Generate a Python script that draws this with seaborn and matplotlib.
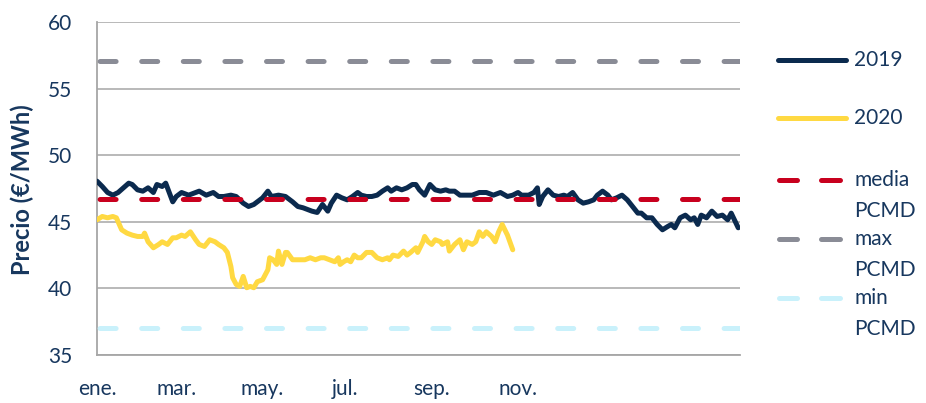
import matplotlib
matplotlib.use("Agg")
import matplotlib.pyplot as plt
from matplotlib.lines import Line2D
import seaborn as sns

# Daily price readings (day of year, €/MWh)
days_2019 = [0, 3, 6, 9, 12, 15, 18, 20, 23, 26, 29, 32, 34, 37, 39, 40, 43, 45, 48, 52,
             56, 58, 62, 66, 69, 72, 76, 79, 83, 86, 89, 91, 94, 97, 99, 103, 107, 111, 114, 117,
             120, 122, 125, 128, 131, 133, 136, 139, 142, 145, 148, 150, 153, 156, 159, 162, 165, 167, 170, 173,
             176, 179, 181, 183, 186, 189, 192, 195, 198, 200, 203, 206, 210, 213, 217, 221, 225, 229, 233, 236,
             239, 241, 245, 248, 250, 251, 253, 256, 259, 262, 265, 267, 270, 273, 276, 279, 282, 284, 287, 290,
             292, 295, 298, 301, 304, 307, 309, 312, 315, 318, 321, 324, 326, 328, 331, 334, 337, 339, 341, 343,
             346, 349, 352, 355, 358, 360, 364]
price_2019 = [48.05, 47.65, 47.2, 47.0, 47.2, 47.55, 47.9, 47.8, 47.4, 47.3, 47.55, 47.2, 47.8, 47.65, 47.9, 47.55, 46.5, 46.9, 47.2, 47.0,
              47.2, 47.3, 47.0, 47.2, 46.9, 46.9, 47.0, 46.9, 46.4, 46.15, 46.3, 46.5, 46.8, 47.3, 46.9, 47.0, 46.9, 46.5, 46.15, 46.05,
              45.9, 45.8, 45.7, 46.3, 45.8, 46.4, 47.0, 46.8, 46.65, 46.9, 47.2, 47.0, 46.9, 46.9, 47.0, 47.3, 47.55, 47.3, 47.55, 47.4,
              47.55, 47.8, 47.8, 47.4, 47.0, 47.8, 47.4, 47.3, 47.4, 47.3, 47.3, 47.0, 47.0, 47.0, 47.2, 47.2, 47.0, 47.2, 46.9, 47.0,
              47.2, 47.0, 47.0, 47.2, 47.55, 46.3, 46.9, 47.4, 47.0, 46.9, 47.0, 46.9, 47.2, 46.65, 46.4, 46.5, 46.65, 47.0, 47.3, 47.0,
              46.65, 46.8, 47.0, 46.65, 46.15, 45.65, 45.65, 45.3, 45.3, 44.8, 44.4, 44.65, 44.8, 44.55, 45.3, 45.5, 45.15, 45.3, 44.8, 45.5,
              45.3, 45.8, 45.4, 45.5, 45.15, 45.65, 44.55]

days_2020 = [0, 3, 6, 9, 11, 14, 17, 20, 23, 26, 27, 29, 32, 35, 37, 40, 43, 45, 48, 50,
             53, 56, 58, 61, 64, 67, 69, 72, 74, 76, 77, 79, 81, 83, 85, 87, 89, 91, 94, 97,
             98, 100, 102, 103, 105, 107, 108, 111, 114, 116, 118, 121, 124, 127, 129, 132, 135, 137, 138, 140,
             142, 144, 146, 148, 150, 153, 156, 159, 162, 165, 166, 168, 171, 174, 176, 178, 181, 182, 185, 186,
             188, 190, 192, 195, 196, 199, 200, 203, 206, 208, 210, 213, 215, 217, 219, 221, 224, 226, 228, 230,
             233, 236]
price_2020 = [45.15, 45.4, 45.3, 45.4, 45.3, 44.4, 44.15, 44.0, 43.9, 43.9, 44.15, 43.5, 43.05, 43.3, 43.5, 43.3, 43.8, 43.8, 44.0, 43.9,
              44.25, 43.65, 43.3, 43.15, 43.65, 43.5, 43.3, 43.05, 42.7, 41.65, 40.8, 40.3, 40.15, 40.9, 40.05, 40.15, 40.05, 40.5, 40.65, 41.4,
              42.3, 42.15, 41.8, 42.8, 41.8, 42.7, 42.7, 42.15, 42.15, 42.15, 42.15, 42.3, 42.15, 42.3, 42.3, 42.15, 42.0, 42.3, 41.8, 42.0,
              42.15, 42.0, 42.5, 42.3, 42.3, 42.7, 42.7, 42.3, 42.15, 42.3, 42.15, 42.5, 42.4, 42.8, 42.5, 42.7, 43.05, 42.7, 43.5, 43.9,
              43.5, 43.3, 43.65, 43.5, 43.3, 43.5, 42.8, 43.3, 43.65, 42.9, 43.5, 43.3, 43.5, 44.25, 43.9, 44.25, 43.9, 43.5, 44.25, 44.8,
              44.0, 42.9]

media_pcmd = 46.7
max_pcmd = 57.1
min_pcmd = 37.0

month_ticks = [0, 45, 94, 141, 190, 239]
month_labels = ["ene.", "mar.", "may.", "jul.", "sep.", "nov."]
y_ticks = [35, 40, 45, 50, 55, 60]

navy = "#0B2A4E"
yellow = "#FFD942"
red = "#C8001E"
gray = "#8A8C96"
light = "#C9F1FB"
txt = "#17375E"
grid = "#A6A6A6"

sns.set_theme(style="white")
plt.rcParams["font.family"] = ["Lato", "DejaVu Sans"]
FS = 15

fig = plt.figure(figsize=(9.26, 4.03), dpi=100)
ax = fig.add_axes([97 / 926, 1 - 355 / 403, 643 / 926, 333 / 403])

sns.lineplot(x=days_2019, y=price_2019, ax=ax, color=navy, linewidth=3.6,
             solid_joinstyle="round", solid_capstyle="round", zorder=3)
sns.lineplot(x=days_2020, y=price_2020, ax=ax, color=yellow, linewidth=3.6,
             solid_joinstyle="round", solid_capstyle="round", zorder=3)

dash = (7.8, (3.2, 5.12))
for val, col in [(media_pcmd, red), (max_pcmd, gray), (min_pcmd, light)]:
    ax.axhline(val, color=col, linewidth=3.6, linestyle=dash,
               dash_capstyle="round", zorder=4)

ax.set_xlim(0, 365)
ax.set_ylim(35, 60)
ax.set_yticks(y_ticks)
ax.set_xticks(month_ticks)
ax.set_xticklabels(month_labels)
ax.tick_params(axis="both", length=0, labelsize=FS, labelcolor=txt)
ax.tick_params(axis="y", pad=18)
ax.tick_params(axis="x", pad=17)
ax.yaxis.grid(True, color=grid, linewidth=1.1)
ax.set_axisbelow(True)
for s in ["top", "right"]:
    ax.spines[s].set_visible(False)
for s in ["left", "bottom"]:
    ax.spines[s].set_color(grid)
    ax.spines[s].set_linewidth(1.3)
ax.set_xlabel("")
ax.set_ylabel("")

fig.text(22 / 926, 1 - 190 / 403, "Precio (€/MWh)", rotation=90, ha="center",
         va="center", fontsize=17, fontweight="bold", color=txt)

# legend drawn by hand so the handle sits on the first text line
def fy(py):
    return 1 - py / 403

entries = [
    ("2019", None, navy, False, 60),
    ("2020", None, yellow, False, 118),
    ("media", "PCMD", red, True, 180),
    ("max", "PCMD", gray, True, 239),
    ("min", "PCMD", light, True, 298),
]
for lab, sub, col, dashed, py in entries:
    if dashed:
        for x0, x1 in [(779, 797), (821, 840)]:
            fig.add_artist(Line2D([x0 / 926, x1 / 926], [fy(py), fy(py)], color=col,
                                  linewidth=3.6, solid_capstyle="round"))
    else:
        fig.add_artist(Line2D([778 / 926, 846 / 926], [fy(py), fy(py)], color=col,
                              linewidth=3.6, solid_capstyle="round"))
    fig.text(854 / 926, fy(py), lab, ha="left", va="center", fontsize=FS, color=txt)
    if sub:
        fig.text(854 / 926, fy(py + 31), sub, ha="left", va="center", fontsize=FS, color=txt)

fig.savefig("out.png", dpi=100)
